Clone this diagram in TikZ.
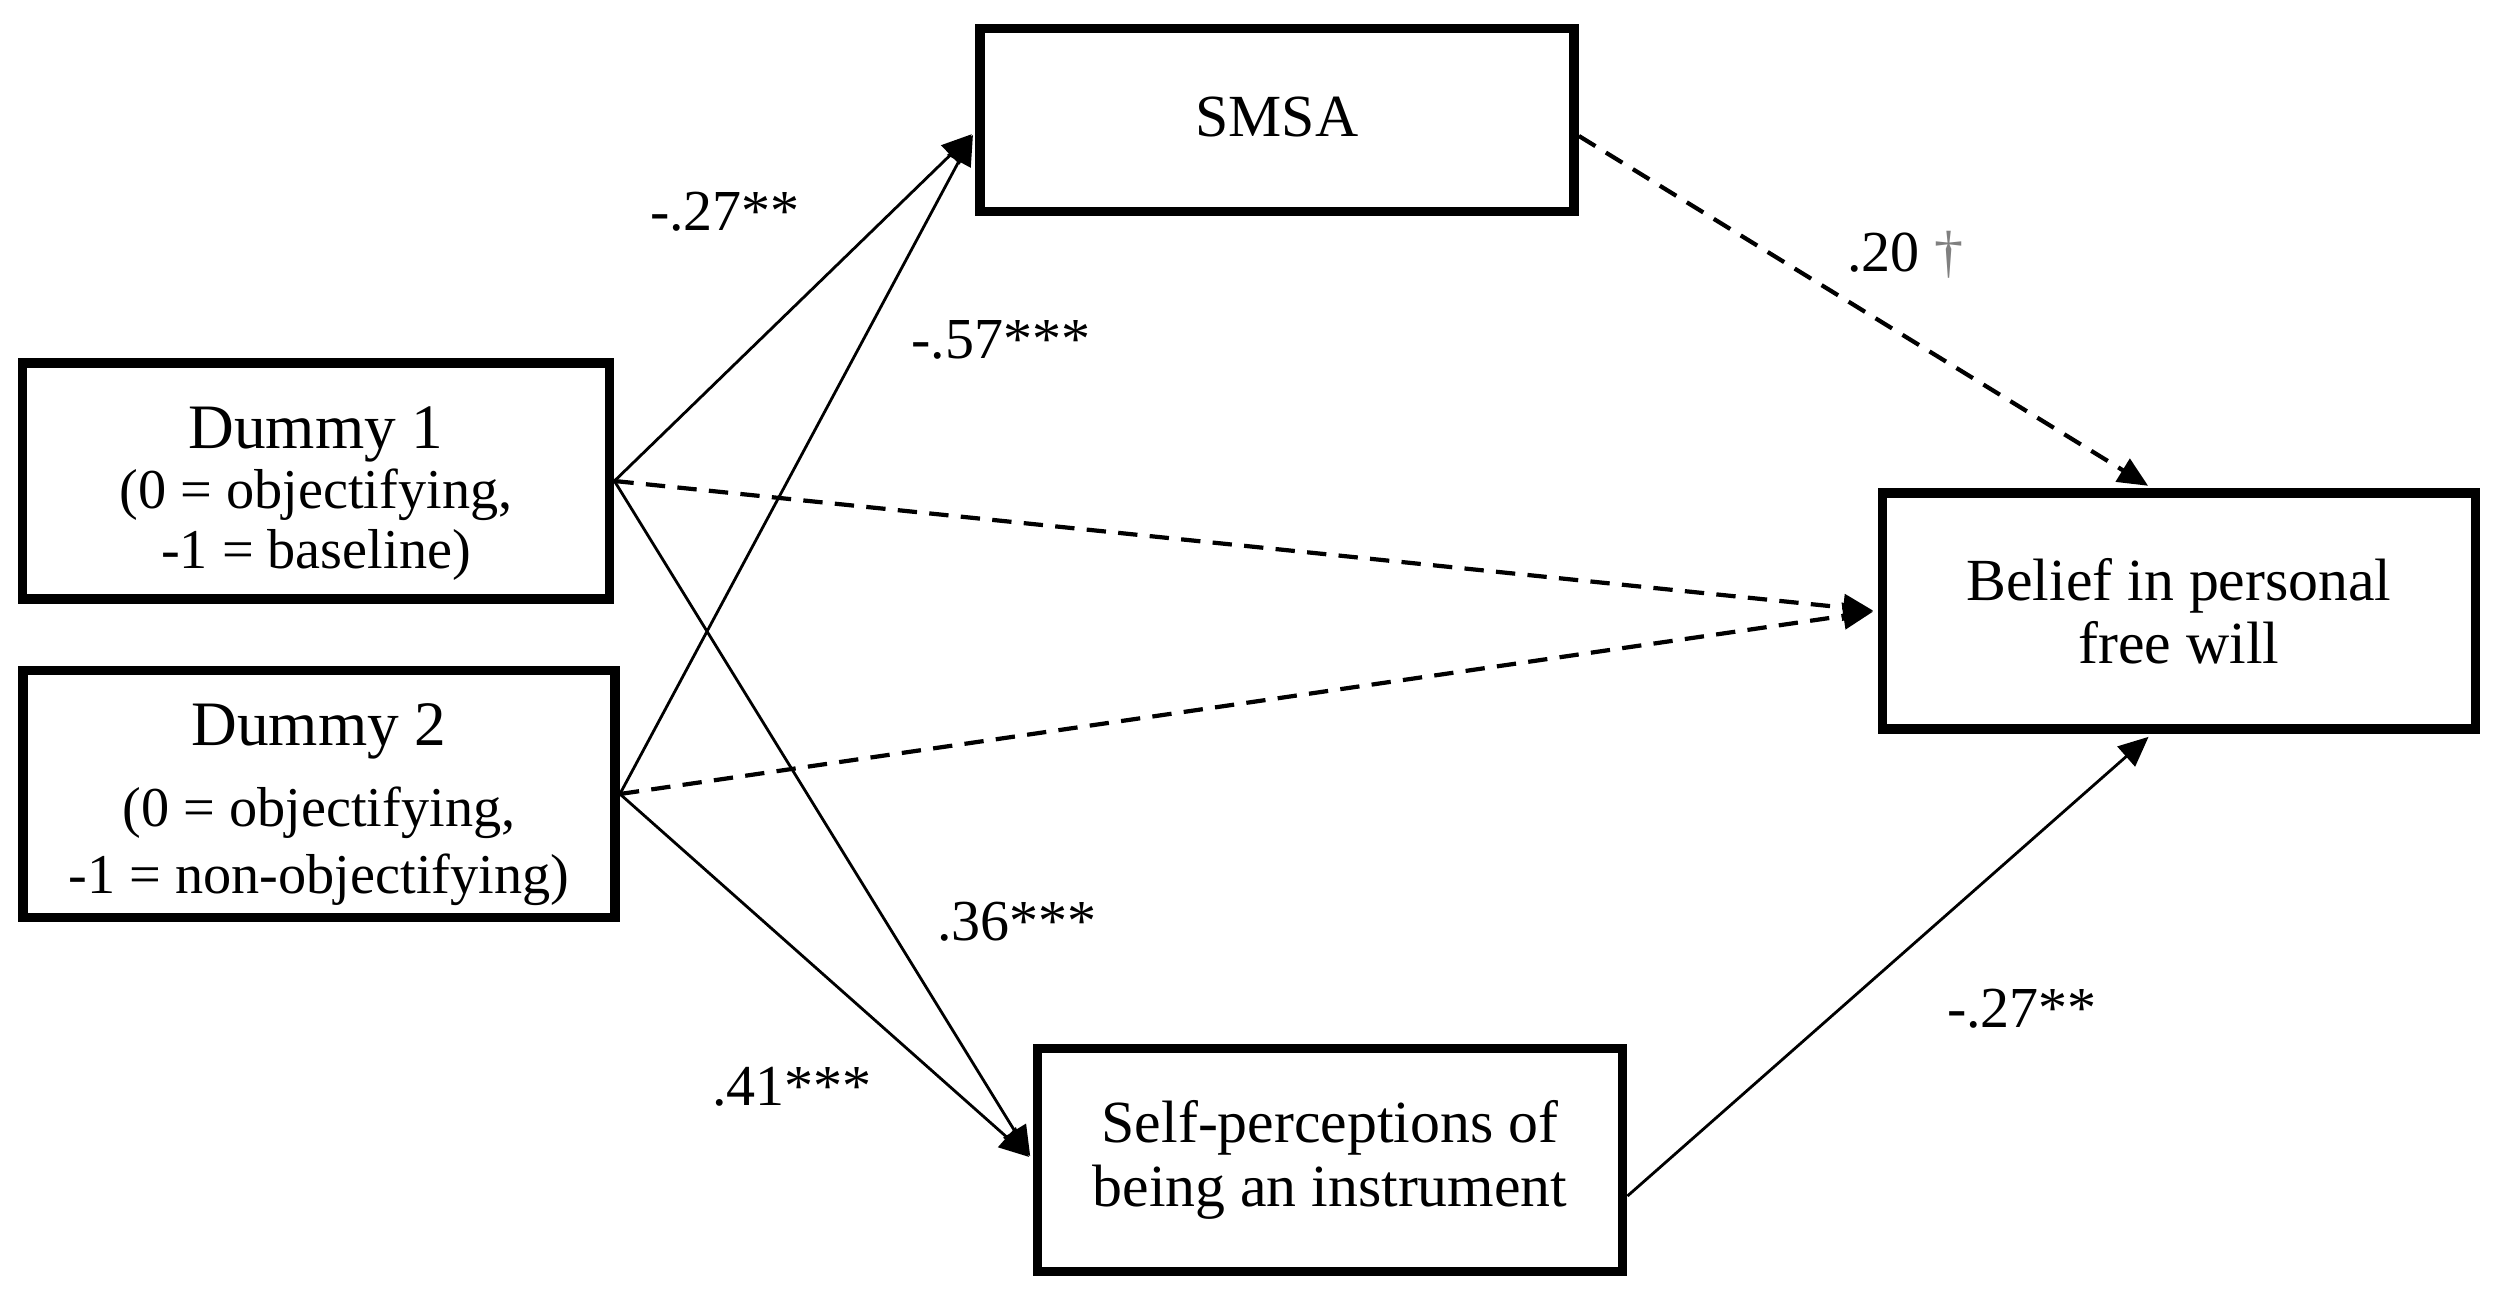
\documentclass[tikz,border=0pt]{standalone}
\usepackage{fontspec}
\setmainfont{Liberation Serif}
\usetikzlibrary{arrows.meta}
\begin{document}
\begin{tikzpicture}[x=0.01cm,y=-0.01cm,
  box/.style={draw,line width=2.7pt,rectangle,align=center,inner sep=2pt,font=\fontsize{17}{18}\selectfont},
  solidarr/.style={line width=0.8pt,-{Triangle[length=8.5pt,width=7.5pt]},shorten >=1.3pt},
  dasharr/.style={line width=1.2pt,dash pattern=on 5.5pt off 3.5pt,-{Triangle[length=8.5pt,width=7.5pt]},shorten >=1.3pt},
  coef/.style={font=\fontsize{16.5}{18}\selectfont,inner sep=0pt}]
\useasboundingbox (0,0) rectangle (2500,1310);
\fill[white] (0,0) rectangle (2500,1310);

\node[box,minimum width=5.87cm,minimum height=2.36cm] (d1) at (316,481)
  {\rule{0pt}{19pt}{\fontsize{18}{18}\selectfont Dummy 1}\\[-1pt]{\fontsize{16}{18}\selectfont (0 = objectifying,}\\[-1pt]{\fontsize{16}{18}\selectfont -1 = baseline)}};
\node[box,minimum width=5.92cm,minimum height=2.47cm] (d2) at (319,794)
  {\rule{0pt}{18pt}{\fontsize{18}{18}\selectfont Dummy 2}\\[5pt]{\fontsize{16}{18}\selectfont (0 = objectifying,}\\[1pt]{\fontsize{16}{18}\selectfont -1 = non-objectifying)}};
\node[box,minimum width=5.94cm,minimum height=1.83cm] (smsa) at (1277,120) {\raisebox{2pt}{SMSA}};
\node[box,minimum width=5.93cm,minimum height=2.36cm] (bel) at (2179,611) {Belief in personal\\free will};
\node[box,minimum width=5.85cm,minimum height=2.23cm] (self) at (1330,1160) {Self-perceptions of\\being an instrument};

\coordinate (smsaIn) at ([yshift=-0.11cm]smsa.west);
\coordinate (smsaOut) at ([yshift=-0.16cm]smsa.east);
\coordinate (belTop) at ([xshift=-0.27cm]bel.north);
\coordinate (belBot) at ([xshift=-0.27cm]bel.south);
\coordinate (selfOut) at ([yshift=-0.36cm]self.east);

\draw[solidarr] (d1.east) -- (smsaIn);
\draw[solidarr] (d2.east) -- (smsaIn);
\draw[solidarr] (d1.east) -- (self.west);
\draw[solidarr] (d2.east) -- (self.west);
\draw[dasharr] (d1.east) -- (bel.west);
\draw[dasharr] (d2.east) -- (bel.west);
\draw[dasharr] (smsaOut) -- (belTop);
\draw[solidarr] (selfOut) -- (belBot);

\node[coef] (c1) at (725,212) {-.27**};
\node[coef] (c2) at (1001,340) {-.57***};
\node[coef] (c3) at (1905,255) {.20 {\color{gray}\textdagger}};
\node[coef] (c4) at (1017,922) {.36***};
\node[coef] (c5) at (792,1087) {.41***};
\node[coef] (c6) at (2022,1009) {-.27**};
\end{tikzpicture}
\end{document}
